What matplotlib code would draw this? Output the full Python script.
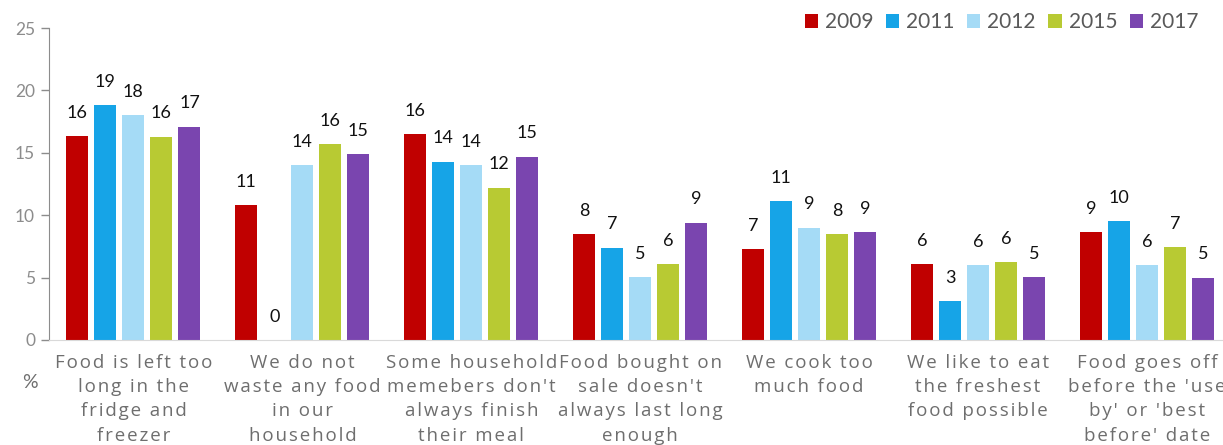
import numpy as np
import matplotlib.pyplot as plt

# Reasons for food waste, % of respondents
categories = [
    "Food is left too\nlong in the\nfridge and\nfreezer",
    "We do not\nwaste any food\nin our\nhousehold",
    "Some household\nmemebers don't\nalways finish\ntheir meal",
    "Food bought on\nsale doesn't\nalways last long\nenough",
    "We cook too\nmuch food",
    "We like to eat\nthe freshest\nfood possible",
    "Food goes off\nbefore the 'use\nby' or 'best\nbefore' date",
]
years = ["2009", "2011", "2012", "2015", "2017"]

v2009 = [16.35, 10.8, 16.5, 8.5, 7.3, 6.1, 8.65]
v2011 = [18.8, 0.0, 14.3, 7.4, 11.1, 3.1, 9.5]
v2012 = [18.0, 14.0, 14.0, 5.05, 9.0, 6.0, 6.0]
v2015 = [16.3, 15.7, 12.2, 6.1, 8.5, 6.25, 7.45]
v2017 = [17.1, 14.9, 14.7, 9.4, 8.65, 5.05, 5.0]

lab2009 = [16, 11, 16, 8, 7, 6, 9]
lab2011 = [19, 0, 14, 7, 11, 3, 10]
lab2012 = [18, 14, 14, 5, 9, 6, 6]
lab2015 = [16, 16, 12, 6, 8, 6, 7]
lab2017 = [17, 15, 15, 9, 9, 5, 5]

series = [v2009, v2011, v2012, v2015, v2017]
labels = [lab2009, lab2011, lab2012, lab2015, lab2017]
colors = ["#C00000", "#16A4E7", "#A5DBF6", "#B8CA33", "#7A45AF"]

plt.rcParams['font.family'] = ['Lato', 'DejaVu Sans']


def spaced(s):
    # the original uses letter-spaced category text; fake it with hair spaces
    return "\n".join("\u200a".join(line) for line in s.split("\n"))


fig = plt.figure(figsize=(12.23, 4.45), dpi=100)
ax = fig.add_axes([0.040, 0.236, 0.960, 0.701])

x = np.arange(len(categories))
pitch = 0.166
width = 0.13
for i, (vals, labs, col, yr) in enumerate(zip(series, labels, colors, years)):
    pos = x + (i - 2) * pitch
    ax.bar(pos, vals, width=width, color=col, label=yr, zorder=2)
    for px, v, l in zip(pos, vals, labs):
        ax.annotate(str(l), (px, v), xytext=(0, 11), textcoords='offset points',
                    ha='center', va='bottom', fontsize=13, color='#111111')

ax.set_ylim(0, 25)
ax.set_xlim(-0.5, 6.45)
ax.set_yticks([0, 5, 10, 15, 20, 25])
ax.tick_params(axis='y', colors='#8C8C8C', labelsize=12.5, length=6, width=1, pad=4,
               labelcolor='#8C8C8C')
ax.set_xticks(x)
ax.set_xticklabels([spaced(c) for c in categories], fontsize=13.5, color='#6E6E6E',
                   linespacing=1.45, family=['Open Sans', 'DejaVu Sans'])
ax.tick_params(axis='x', length=0, pad=10)

for s in ['top', 'right']:
    ax.spines[s].set_visible(False)
ax.spines['left'].set_color('#8C8C8C')
ax.spines['bottom'].set_color('#D9D9D9')

fig.text(0.018, 0.14, "%", fontsize=14, color='#6E6E6E', ha='left', va='center')

leg = ax.legend(loc='upper right', bbox_to_anchor=(0.995, 1.11), ncol=5, frameon=False,
                fontsize=15, handlelength=0.63, handleheight=0.63, handletextpad=0.34,
                columnspacing=0.6, labelcolor='#595959')

fig.savefig("out.png", dpi=100)
